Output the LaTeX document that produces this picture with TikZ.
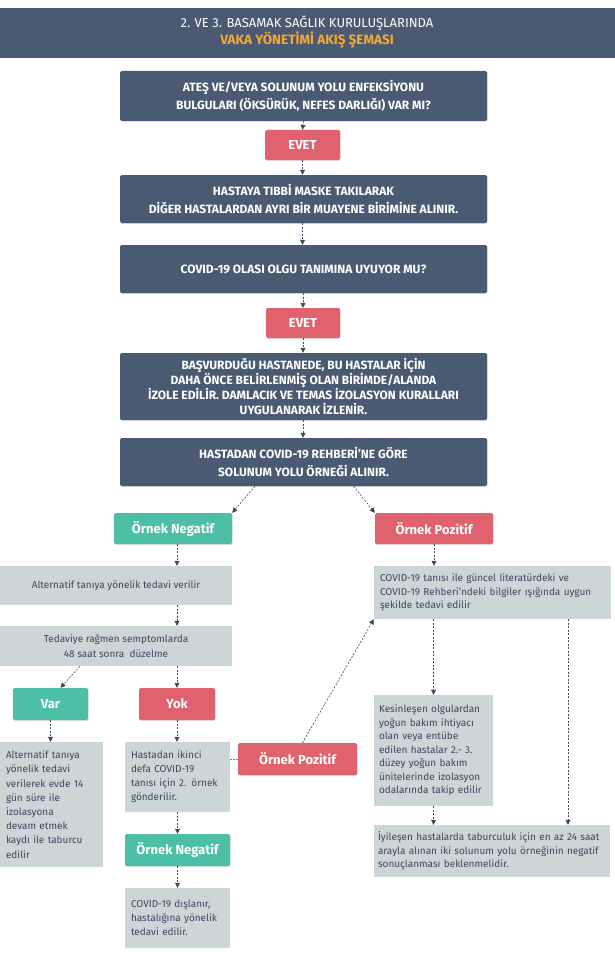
\documentclass[tikz,border=0pt]{standalone}
\usepackage{fontspec}
\setmainfont{Fira Sans}
\usetikzlibrary{arrows.meta,positioning,shadows}

\definecolor{navy}{HTML}{4B5A73}
\definecolor{linkc}{HTML}{3D4A60}
\definecolor{redtag}{HTML}{E0626F}
\definecolor{greentag}{HTML}{4CBFA6}
\definecolor{greyc}{HTML}{CDD6D6}
\definecolor{greytext}{HTML}{3A4660}
\definecolor{orangec}{HTML}{F7A833}

\tikzset{
  darkbox/.style={fill=navy, text=white, rounded corners=1.5pt, minimum width=367pt,
    align=center, font=\bfseries\fontsize{12}{18}\selectfont,
    drop shadow={opacity=0.25, shadow xshift=0.6pt, shadow yshift=-0.8pt}},
  tag/.style={text=white, rounded corners=1.5pt, align=center,
    font=\bfseries\fontsize{13}{14}\selectfont,
    drop shadow={opacity=0.25, shadow xshift=0.6pt, shadow yshift=-0.8pt}},
  redbox/.style={tag, fill=redtag},
  greenbox/.style={tag, fill=greentag},
  greybox/.style={fill=greyc, text=greytext, inner xsep=7pt, inner ysep=4pt,
    font=\fontsize{10}{13.5}\selectfont},
  link/.style={draw=linkc, line width=0.6pt, dash pattern=on 2pt off 1.5pt,
    -{Triangle[length=5pt,width=5pt]}},
  plainlink/.style={draw=linkc!70, line width=0.6pt, dash pattern=on 1.5pt off 1.5pt}
}

\begin{document}
\begin{tikzpicture}[x=1pt,y=-1pt]
  \useasboundingbox (0,0) rectangle (615,955);

  % title band
  \fill[navy] (0,8) rectangle (615,58);
  \node[text=white, font=\fontsize{13}{14}\selectfont] (title) at (307,23) {2. VE 3. BASAMAK SAĞLIK KURULUŞLARINDA};
  \node[text=orangec, font=\bfseries\fontsize{13.5}{14}\selectfont] (subtitle) at (307,40) {VAKA YÖNETİMİ AKIŞ ŞEMASI};

  % main column
  \node[darkbox, minimum height=50pt] (q1) at (303.5,96) {ATEŞ VE/VEYA SOLUNUM YOLU ENFEKSİYONU\\BULGULARI (ÖKSÜRÜK, NEFES DARLIĞI) VAR MI?};
  \node[redbox, minimum width=75pt, minimum height=30pt] (evet1) at (302.5,145) {EVET};
  \node[darkbox, minimum height=48pt] (mask) at (303.5,199) {HASTAYA TIBBİ MASKE TAKILARAK\\DİĞER HASTALARDAN AYRI BİR MUAYENE BİRİMİNE ALINIR.};
  \node[darkbox, minimum height=48pt] (olasi) at (303.5,269) {COVID-19 OLASI OLGU TANIMINA UYUYOR MU?};
  \node[redbox, minimum width=74pt, minimum height=30pt] (evet2) at (303,323) {EVET};
  \node[darkbox, minimum height=67pt, font=\bfseries\fontsize{12}{15}\selectfont] (izole) at (303.5,386.5) {BAŞVURDUĞU HASTANEDE, BU HASTALAR İÇİN\\DAHA ÖNCE BELİRLENMİŞ OLAN BİRİMDE/ALANDA\\İZOLE EDİLİR. DAMLACIK VE TEMAS İZOLASYON KURALLARI\\UYGULANARAK İZLENİR.};
  \node[darkbox, minimum height=48pt] (ornek) at (303.5,462) {HASTADAN COVID-19 REHBERİ’NE GÖRE\\SOLUNUM YOLU ÖRNEĞİ ALINIR.};

  % sample results
  \node[greenbox, minimum width=118pt, minimum height=31pt] (neg1) at (173,528.5) {Örnek Negatif};
  \node[redbox, minimum width=118pt, minimum height=31pt] (pos1) at (434,528.5) {Örnek Pozitif};

  % negative branch
  \node[greybox, minimum width=232pt, minimum height=39pt] (alt1) at (116,585.5) {Alternatif tanıya yönelik tedavi verilir};
  \node[greybox, minimum width=232pt, minimum height=40pt, align=center, font=\fontsize{10}{15}\selectfont] (ted) at (116,646) {Tedaviye rağmen semptomlarda\\48 saat sonra\ \ düzelme};
  \node[greenbox, minimum width=75pt, minimum height=32pt] (var) at (50.5,704) {Var};
  \node[redbox, minimum width=76pt, minimum height=32pt] (yok) at (177,704) {Yok};
  \node[greybox, minimum width=103pt, minimum height=125pt, text width=91pt, inner xsep=6pt, align=left, font=\fontsize{10}{14.2}\selectfont] (alt2) at (51.5,804.5) {Alternatif tanıya\\yönelik tedavi\\verilerek evde 14\\gün süre ile\\izolasyona\\devam etmek\\kaydı ile taburcu\\edilir};
  \node[greybox, minimum width=105pt, minimum height=70pt, text width=93pt, inner xsep=6pt, align=left, font=\fontsize{10}{14}\selectfont] (ikinci) at (177.5,777) {Hastadan ikinci\\defa COVID-19\\tanısı için 2. örnek\\gönderilir.};
  \node[redbox, minimum width=119pt, minimum height=32pt] (pos2) at (297.5,759) {Örnek Pozitif};
  \node[greenbox, minimum width=105pt, minimum height=32pt] (neg2) at (177.5,850) {Örnek Negatif};
  \node[greybox, minimum width=105pt, minimum height=60pt, text width=93pt, inner xsep=6pt, align=left, font=\fontsize{10}{14}\selectfont] (dislanir) at (177.5,918) {COVID-19 dışlanır,\\hastalığına yönelik\\tedavi edilir.};

  % positive branch
  \node[greybox, minimum width=237pt, minimum height=53pt, text width=225pt, inner xsep=6pt, align=left] (tedavi) at (492.5,592.5) {COVID-19 tanısı ile güncel literatürdeki ve\\COVID-19 Rehberi’ndeki bilgiler ışığında uygun\\şekilde tedavi edilir};
  \node[greybox, minimum width=119pt, minimum height=111pt, text width=109pt, inner xsep=5pt, align=left] (kesin) at (433.5,750.5) {Kesinleşen olgulardan\\yoğun bakım ihtiyacı\\olan veya entübe\\edilen hastalar 2.- 3.\\düzey yoğun bakım\\ünitelerinde izolasyon\\odalarında takip edilir};
  \node[greybox, minimum width=236pt, minimum height=52pt, text width=228pt, inner xsep=4pt, align=left] (iyi) at (492,851) {İyileşen hastalarda taburculuk için en az 24 saat\\arayla alınan iki solunum yolu örneğinin negatif\\sonuçlanması beklenmelidir.};

  % connectors
  \draw[link] (q1.south) -- (evet1.north);
  \draw[link] (evet1.south) -- (mask.north -| evet1);
  \draw[link] (mask.south -| evet1) -- (olasi.north -| evet1);
  \draw[link] (olasi.south -| evet2) -- (evet2.north);
  \draw[link] (evet2.south) -- (izole.north -| evet2);
  \draw[link] (izole.south -| evet2) -- (ornek.north -| evet2);
  \draw[link] ([xshift=-48.5pt]ornek.south) -- (neg1.north east);
  \draw[link] ([xshift=50pt]ornek.south) -- (pos1.north west);

  \draw[link] (neg1.south -| yok) -- (alt1.north -| yok);
  \draw[link] (alt1.south -| yok) -- (ted.north -| yok);
  \draw[link] (ted.south -| yok) -- (yok.north);
  \draw[link] ([xshift=-36pt]ted.south) -- ([xshift=10pt]var.north);
  \draw[link] (var.south) -- (var.south |- alt2.north);
  \draw[link] (yok.south) -- (yok.south |- ikinci.north);
  \draw[link] (ikinci.south) -- (neg2.north);
  \draw[link] (neg2.south) -- (dislanir.north);
  \draw[plainlink] (pos2.west) -- (pos2.west -| ikinci.east);
  \draw[link] ([xshift=5pt]pos2.north) -- (tedavi.south west);

  \draw[link] (pos1.south) -- (pos1.south |- tedavi.north);
  \draw[link] (kesin.north |- tedavi.south) -- (kesin.north);
  \draw[link] ([xshift=75.5pt]tedavi.south) -- ([xshift=76pt]iyi.north);
  \draw[link] (kesin.south) -- (kesin.south |- iyi.north);
\end{tikzpicture}
\end{document}
